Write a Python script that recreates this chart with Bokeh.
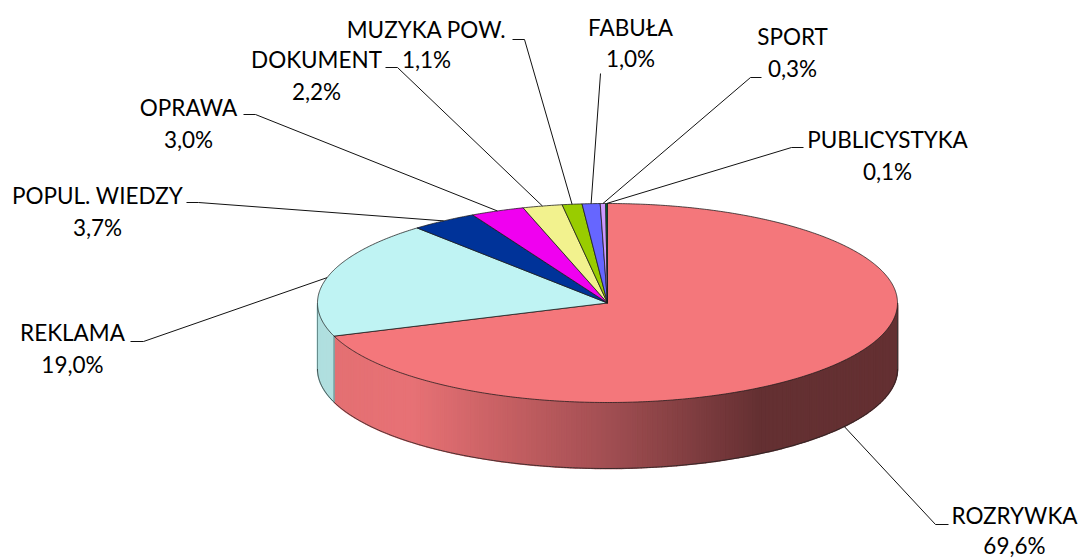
import math
import numpy as np
from bokeh.plotting import figure
from bokeh.models import ColumnDataSource
from bokeh.core.properties import value
from bokeh.embed import file_html
from bokeh.resources import INLINE

categories = ["ROZRYWKA", "REKLAMA", "POPUL. WIEDZY", "OPRAWA", "DOKUMENT",
              "MUZYKA POW.", "FABUŁA", "SPORT", "PUBLICYSTYKA"]
shares = [69.6, 19.0, 3.7, 3.0, 2.2, 1.1, 1.0, 0.3, 0.1]
share_labels = ["69,6%", "19,0%", "3,7%", "3,0%", "2,2%", "1,1%", "1,0%", "0,3%", "0,1%"]
colors = ["#F4777B", "#BFF3F3", "#003399", "#F000F0", "#F2F28E",
          "#99CC00", "#6666FF", "#CC99FF", "#006633"]

# layout, in page pixels
CX, CY, RX, RY, DEPTH = 607, 302.5, 290, 99.5, 66
label_x = [1014, 72, 97, 188, 316, 426, 630, 792, 887]
label_y1 = [515, 332, 195, 107, 59, 29, 27, 36, 139]
label_y2 = [545, 364, 227, 139, 91, 59, 58, 68, 171]
# leader: (outer end, elbow)
leader_end = [(948, 524), (130, 341), (186, 202), (243, 114), (385, 67),
              (512, 39), (600, 73), (761, 77), (803, 147)]
leader_elbow = [(935, 524), (143, 341), (198, 202), (255, 114), (397, 67),
                (524, 39), (600, 73), (750, 77), (791, 147)]
grad_x = [333, 410, 500, 600, 700, 760, 897]
grad_r = [228, 232, 200, 165, 125, 100, 100]
grad_g = [112, 114, 97, 80, 60, 48, 48]
grad_b = [115, 118, 100, 84, 63, 50, 50]
REKLAMA_SIDE = "#B0DFDF"

p = figure(width=1078, height=560, x_range=(0, 1078), y_range=(560, 0),
           output_backend="svg", toolbar_location=None, min_border=0,
           outline_line_color=None, background_fill_color="white")
p.axis.visible = False
p.grid.visible = False


def ell(theta):
    return CX + RX * np.sin(theta), CY - RY * np.cos(theta)


fr = np.cumsum([0] + shares) / sum(shares) * 2 * math.pi
starts, ends = fr[:-1], fr[1:]

# visible side wall: front half only (theta from 90 to 270 degrees)
for i in range(2):
    a = max(starts[i], math.pi / 2)
    b = min(ends[i], 3 * math.pi / 2)
    n = max(2, int(math.degrees(b - a)))
    t = np.linspace(a, b, n + 1)
    xs, ys, cs = [], [], []
    for j in range(n):
        x0, y0 = ell(t[j])
        x1, y1 = ell(t[j + 1])
        xs.append([x0, x1, x1, x0])
        ys.append([y0, y1, y1 + DEPTH, y0 + DEPTH])
        if i == 0:
            xm = (x0 + x1) / 2
            c = (int(np.interp(xm, grad_x, grad_r)),
                 int(np.interp(xm, grad_x, grad_g)),
                 int(np.interp(xm, grad_x, grad_b)))
            cs.append("#%02x%02x%02x" % c)
        else:
            cs.append(REKLAMA_SIDE)
    p.patches(xs, ys, fill_color=cs, line_color=cs, line_width=1.5)

# outline of the side wall
t = np.linspace(math.pi / 2, 3 * math.pi / 2, 300)
bx, by = ell(t)
p.line(bx, by + DEPTH, line_color="#222222", line_width=1, line_alpha=0.8)
for th, col in [(math.pi / 2, "#333333"), (3 * math.pi / 2, "#557777"), (ends[0], "#446666")]:
    x0, y0 = ell(th)
    p.line([x0, x0], [y0, y0 + DEPTH], line_color=col, line_width=1, line_alpha=0.8)

# top face
for i in range(len(shares)):
    n = max(2, int(math.degrees(ends[i] - starts[i]) * 2))
    t = np.linspace(starts[i], ends[i], n + 1)
    x, y = ell(t)
    p.patch(np.r_[CX, x], np.r_[CY, y], fill_color=colors[i],
            line_color="#1a1a1a", line_width=1, line_alpha=0.75)

# leaders
for i in range(len(shares)):
    mid = (starts[i] + ends[i]) / 2
    x, y = ell(mid)
    if math.pi / 2 < mid < 3 * math.pi / 2:
        y += DEPTH
    ex, ey = leader_elbow[i]
    ox, oy = leader_end[i]
    p.line([x, ex, ox], [y, ey, oy], line_color="#111111", line_width=1)

src = ColumnDataSource(dict(x=label_x, y1=label_y1, y2=label_y2,
                            name=categories, share=share_labels))
for ycol, tcol in (("y1", "name"), ("y2", "share")):
    p.text(x="x", y=ycol, text=tcol, source=src, text_font=value("Lato"),
           text_font_size="22.5px", text_color="#000000",
           text_align="center", text_baseline="middle")

open("out.html", "w").write(file_html(p, INLINE))
